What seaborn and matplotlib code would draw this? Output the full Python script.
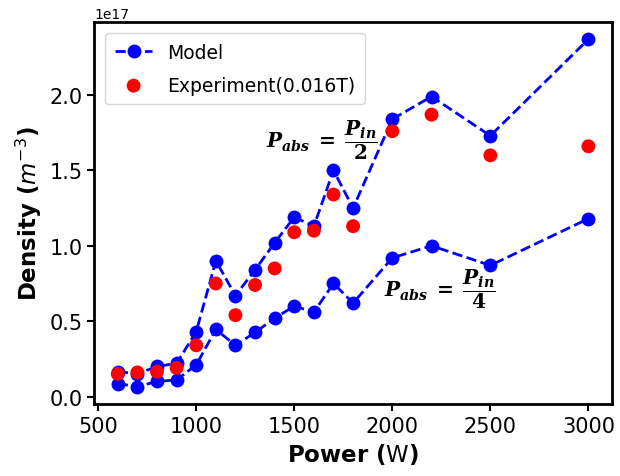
import matplotlib
matplotlib.use("Agg")
import matplotlib.pyplot as plt
import seaborn as sns
import pandas as pd

power = [600, 700, 800, 900, 1000, 1100, 1200, 1300, 1400, 1500, 1600, 1700, 1800, 2000, 2200, 2500, 3000]
model_half = [0.166, 0.15, 0.20, 0.22, 0.43, 0.90, 0.67, 0.84, 1.02, 1.19, 1.13, 1.50, 1.25, 1.84, 1.99, 1.73, 2.37]
model_quarter = [0.086, 0.066, 0.10, 0.11, 0.21, 0.445, 0.34, 0.425, 0.52, 0.60, 0.56, 0.75, 0.62, 0.92, 1.00, 0.87, 1.18]
experiment = [0.15, 0.16, 0.165, 0.19, 0.34, 0.75, 0.54, 0.74, 0.85, 1.09, 1.10, 1.34, 1.13, 1.76, 1.87, 1.60, 1.66]

scale = 1e17
df = pd.DataFrame({
    "power": power,
    "half": [v * scale for v in model_half],
    "quarter": [v * scale for v in model_quarter],
    "exp": [v * scale for v in experiment],
})

sns.set_style("ticks")
plt.rcParams['font.family'] = ['DejaVu Sans']
for k in ["text.color", "axes.labelcolor", "xtick.color", "ytick.color"]:
    plt.rcParams[k] = "black"

fig = plt.figure(figsize=(6.2, 4.77), dpi=100)
ax = fig.add_axes([0.152, 0.151, 0.835, 0.801])

sns.lineplot(data=df, x="power", y="half", ax=ax, color="blue", linestyle="--",
             linewidth=2, marker="o", markersize=10, markeredgewidth=0, label="Model")
sns.lineplot(data=df, x="power", y="quarter", ax=ax, color="blue", linestyle="--",
             linewidth=2, marker="o", markersize=10, markeredgewidth=0, label="_nolegend_")
sns.scatterplot(data=df, x="power", y="exp", ax=ax, color="red", s=100,
                edgecolor="none", label="Experiment(0.016T)", zorder=3)

ax.set_xlabel(r"Power ($\mathrm{W}$)", fontsize=16.5, fontweight="bold")
ax.set_ylabel(r"Density ($m^{-3}$)", fontsize=16.5, fontweight="bold")
ax.set_xticks([500, 1000, 1500, 2000, 2500, 3000])
ax.tick_params(axis="both", labelsize=15, width=1.5, length=5, color="black")
ax.yaxis.get_offset_text().set_fontsize(10)
for s in ax.spines.values():
    s.set_visible(True)
    s.set_linewidth(2)
    s.set_color("black")

leg = ax.legend(loc="upper left", fontsize=13.5, frameon=True, labelspacing=0.75,
                borderaxespad=0.6, borderpad=0.5)

ax.text(1640, 1.71e17, r"$\mathbfit{P}_{\mathbfit{abs}}\;\mathbf{=}\;\dfrac{\mathbfit{P}_{\mathbfit{in}}}{\mathbf{2}}$",
        fontsize=14.5, ha="center", va="center", math_fontfamily="dejavuserif")
ax.text(2245, 0.72e17, r"$\mathbfit{P}_{\mathbfit{abs}}\;\mathbf{=}\;\dfrac{\mathbfit{P}_{\mathbfit{in}}}{\mathbf{4}}$",
        fontsize=14.5, ha="center", va="center", math_fontfamily="dejavuserif")

fig.savefig("out.png", dpi=100)
